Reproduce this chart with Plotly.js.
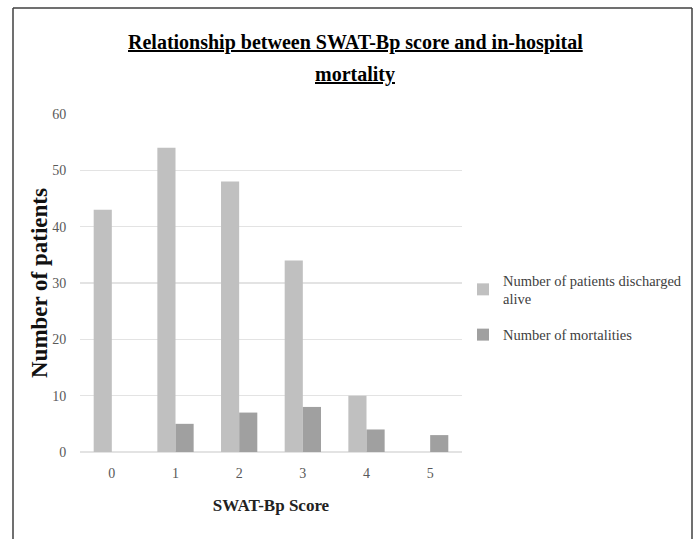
<!DOCTYPE html>
<html>
<head>
<meta charset="utf-8">
<script src="https://cdn.plot.ly/plotly-3.0.1.min.js"></script>
<style>html,body{margin:0;padding:0;background:#fff;}#chart{width:696px;height:539px;}</style>
</head>
<body>
<div id="chart"></div>
<script>
const categories = ["0", "1", "2", "3", "4", "5"];
const alive = [43, 54, 48, 34, 10, 0];
const mortalities = [0, 5, 7, 8, 4, 3];
const seriesNames = ["Number of patients discharged<br>alive", "Number of mortalities"];
const yTicks = [0, 10, 20, 30, 40, 50, 60];
const titleLines = ["Relationship between SWAT-Bp score and in-hospital", "mortality"];
const xTitle = "SWAT-Bp Score";
const yTitle = "Number of patients";

const serif = "Liberation Serif, Times New Roman, serif";

const traces = [
  {type: "bar", x: categories, y: alive, name: seriesNames[0], legendgroup: "a", marker: {color: "#c0c0c0"}, hoverinfo: "skip"},
  {type: "bar", x: categories, y: mortalities, name: seriesNames[1], legendgroup: "b", marker: {color: "#a0a0a0"}, hoverinfo: "skip"}
];

const W = 696, H = 539;
const L = 80, R = 462, T = 114, B = 452;
const pw = R - L, ph = B - T;
const px = v => (v - L) / pw;
const py = v => (B - v) / ph;
const frame = {color: "#404040", width: 1.5};

const layout = {
  width: W, height: H,
  margin: {l: L, r: W - R, t: T, b: H - B},
  paper_bgcolor: "#fff", plot_bgcolor: "#fff",
  barmode: "group", bargap: 0.43, bargroupgap: 0,
  font: {family: serif, color: "#404040"},
  xaxis: {
    type: "category", showgrid: false, zeroline: false, showline: false,
    tickfont: {family: serif, size: 14, color: "#595959"},
    ticks: "outside", ticklen: 8, tickcolor: "rgba(0,0,0,0)",
    title: {text: "<b>" + xTitle + "</b>", font: {family: serif, size: 17, color: "#222"}, standoff: 19},
    automargin: false
  },
  yaxis: {
    range: [0, 60], tickvals: yTicks, showgrid: true, gridcolor: "#e3e3e3", gridwidth: 1.5,
    zeroline: true, zerolinecolor: "#e3e3e3", zerolinewidth: 1.5, showline: false,
    tickfont: {family: serif, size: 14, color: "#595959"},
    ticks: "outside", ticklen: 10, tickcolor: "rgba(0,0,0,0)",
    automargin: false
  },
  legend: {
    xref: "container", yref: "container",
    x: 463 / W, xanchor: "left", y: 1 - 264 / H, yanchor: "top",
    font: {family: serif, size: 14.5, color: "#404040"},
    bgcolor: "rgba(0,0,0,0)", itemwidth: 30,
    traceorder: "grouped", tracegroupgap: 14
  },
  annotations: [
    {text: "<b><u>" + titleLines[0] + "</u></b>", xref: "paper", yref: "paper", x: px(355), y: py(43),
     xanchor: "center", yanchor: "middle", showarrow: false, font: {family: serif, size: 20, color: "#000"}},
    {text: "<b><u>" + titleLines[1] + "</u></b>", xref: "paper", yref: "paper", x: px(355), y: py(75),
     xanchor: "center", yanchor: "middle", showarrow: false, font: {family: serif, size: 20, color: "#000"}},
    {text: "<b>" + yTitle + "</b>", xref: "paper", yref: "paper", x: px(39), y: py(283), textangle: -90,
     xanchor: "center", yanchor: "middle", showarrow: false, font: {family: serif, size: 23, color: "#111"}}
  ],
  shapes: [
    {type: "line", xref: "paper", yref: "paper", x0: px(13), x1: px(692), y0: py(8), y1: py(8), line: frame},
    {type: "line", xref: "paper", yref: "paper", x0: px(13), x1: px(13), y0: py(8), y1: py(539), line: frame},
    {type: "line", xref: "paper", yref: "paper", x0: px(692), x1: px(692), y0: py(8), y1: py(539), line: frame}
  ],
  showlegend: true
};

Plotly.newPlot("chart", traces, layout, {displayModeBar: false, staticPlot: true});
</script>
</body>
</html>
